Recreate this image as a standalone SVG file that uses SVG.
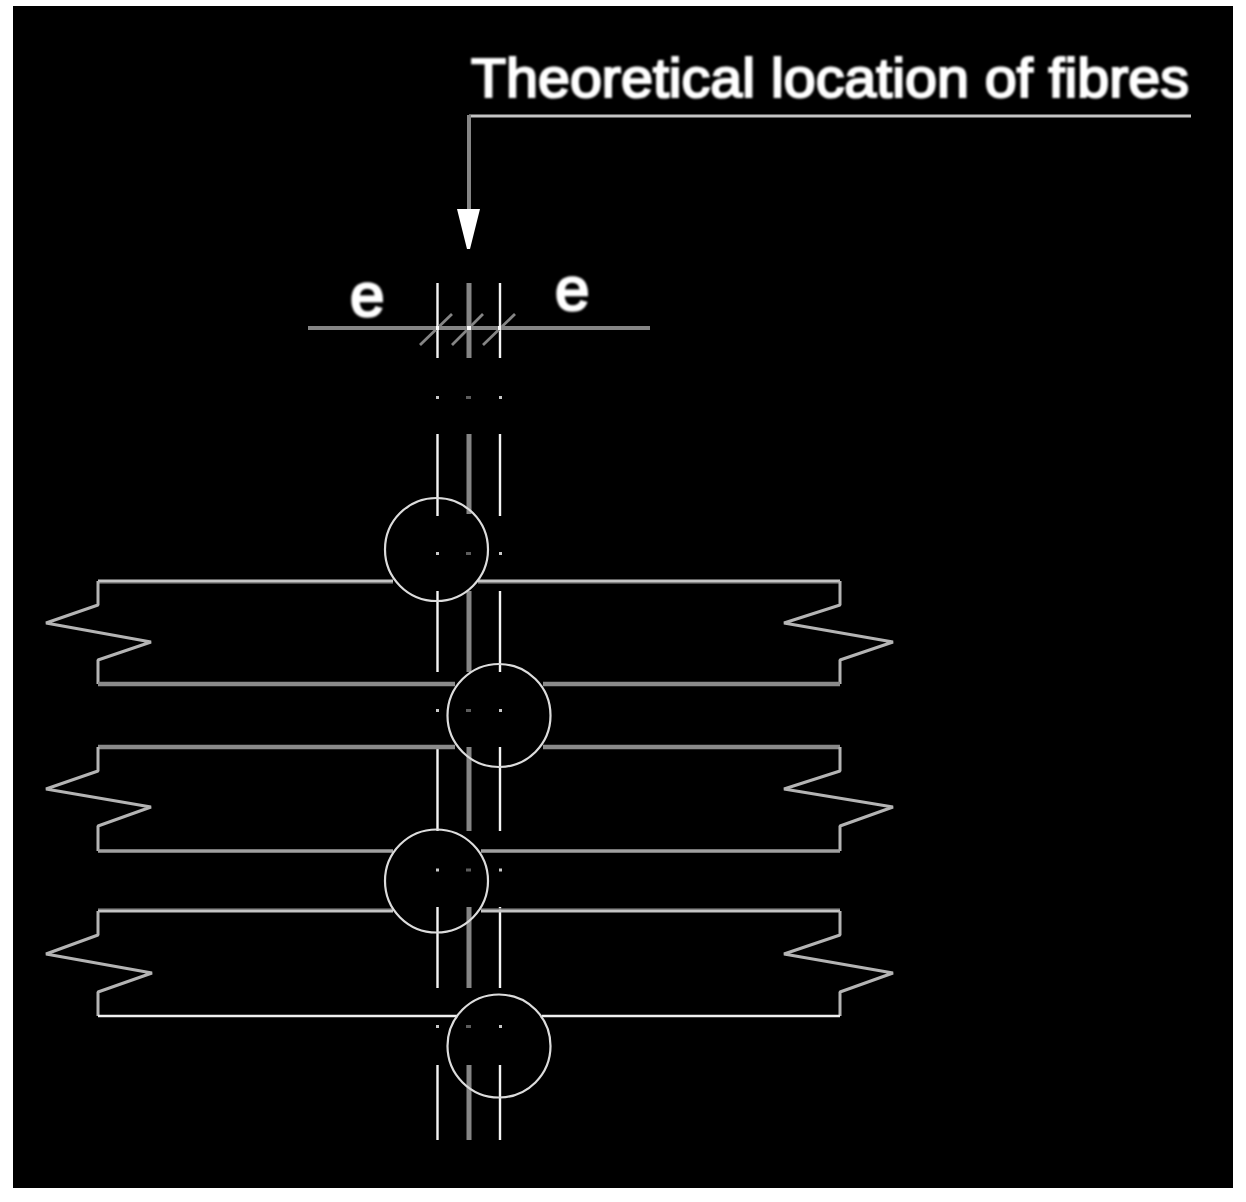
<svg xmlns="http://www.w3.org/2000/svg" width="1246" height="1202" viewBox="0 0 1246 1202">
<defs>
<style>
.c{fill:none;stroke:#dcdcdc;stroke-width:2.2}
.g{fill:none;stroke:#858585;stroke-width:5}
.w{fill:none;stroke:#f4f4f4;stroke-width:2.4}
.z{fill:none;stroke:#b4b4b4;stroke-width:3;stroke-linejoin:bevel}
.h1{fill:none;stroke:#c4c4c4;stroke-width:3}
.h2{fill:none;stroke:#8a8a8a;stroke-width:4.500}
.h3{fill:none;stroke:#f0f0f0;stroke-width:2.500}
.s{fill:none;stroke:#606060;stroke-width:1.500}
.t{fill:none;stroke:#858585;stroke-width:2.800}
.d{fill:#c8c8c8}
.d2{fill:#5c5c5c}
.lbl{font-family:"Liberation Sans",Arial,sans-serif;fill:#fff;stroke:#fff}
</style>
<filter id="soft" filterUnits="userSpaceOnUse" x="0" y="0" width="1246" height="1202"><feGaussianBlur stdDeviation="0.8"/></filter>
<filter id="line" filterUnits="userSpaceOnUse" x="0" y="0" width="1246" height="1202"><feGaussianBlur stdDeviation="0.35"/></filter>
</defs>
<rect width="1246" height="1202" fill="#fff"/>
<rect x="13" y="6" width="1220" height="1182" fill="#000"/>
<g id="centerlines" filter="url(#line)">
<path class="g" d="M469 283V358M469 434V514M469 591V672M469 747V831M469 907V988M469 1065V1140"/>
<path class="w" d="M437.500 283V358M437.500 434V516M437.500 591V672M437.500 747V831M437.500 907V988M437.500 1065V1140"/>
<path class="w" d="M500 283V358M500 434V516M500 591V672M500 747V831M500 907V988M500 1065V1140"/>
<path class="d" d="M436 396h3v3h-3zM499 396h3v3h-3zM436 552h3v3h-3zM499 552h3v3h-3zM436 709h3v3h-3zM499 709h3v3h-3zM436 868.500h3v3h-3zM499 868.500h3v3h-3zM436 1025h3v3h-3zM499 1025h3v3h-3z"/>
<path class="d2" d="M466 396h5v3h-5zM466 552h5v3h-5zM466 709h5v3h-5zM466 868.500h5v3h-5zM466 1025h5v3h-5z"/>
</g>
<g id="beam-1" filter="url(#line)">
<path class="s" d="M98 583H393M478 583H840"/>
<path class="h1" d="M393 581H98M478 581H840"/>
<path class="z" d="M98 581V605L46 623L151 642L98 660V684"/>
<path class="z" d="M840 581V605L784 623L893 642L840 660V684"/>
<path class="h2" d="M98 684H455M543 684H840"/>
</g>
<g id="beam-2" filter="url(#line)">
<path class="h2" d="M98 747H455M543 747H840"/>
<path class="z" d="M98 747V771L46 789L151 807L98 826V851"/>
<path class="z" d="M840 747V771L784 789L893 807L840 826V851"/>
<path class="h2" d="M98 851H393M481 851H840" style="stroke-width:3.500;stroke:#a0a0a0"/>
</g>
<g id="beam-3" filter="url(#line)">
<path class="s" d="M98 909H393M481 909H840"/>
<path class="h1" d="M98 911H393M481 911H840"/>
<path class="z" d="M98 911V935L46 954L152 973L98 992V1016"/>
<path class="z" d="M840 911V935L784 954L893 973L840 992V1016"/>
<path class="h3" d="M98 1016H457M542 1016H840"/>
</g>
<g id="circle-1" filter="url(#line)"><circle class="c" cx="436.500" cy="549.500" r="51.500"/></g>
<g id="circle-2" filter="url(#line)"><circle class="c" cx="499" cy="715.500" r="51.500"/></g>
<g id="circle-3" filter="url(#line)"><circle class="c" cx="436.500" cy="881" r="51.500"/></g>
<g id="circle-4" filter="url(#line)"><circle class="c" cx="499" cy="1046" r="51.500"/></g>
<g id="connectors" filter="url(#line)">
<path class="h1" d="M1191 116H469"/>
<path class="g" d="M469 115V212" style="stroke-width:4"/>
<path d="M457 209H480L470 249H467Z" fill="#fff"/>
<path class="g" d="M308 328H650" style="stroke-width:4"/>
<path class="t" d="M420 345L452 314M452 345L483 314M483 345L515 314"/>
<path class="d" style="fill:#fff" d="M436 326h3v4h-3zM467 326h4v4h-4zM498 326h3v4h-3z"/>
</g>
<g id="labels" filter="url(#soft)">
<text class="lbl" x="471" y="97" font-size="56" stroke-width="2.200" textLength="718" lengthAdjust="spacingAndGlyphs">Theoretical location of fibres</text>
<text class="lbl" x="350" y="316" font-size="62" stroke-width="2.500">e</text>
<text class="lbl" x="555" y="310" font-size="62" stroke-width="2.500">e</text>
</g>
</svg>
